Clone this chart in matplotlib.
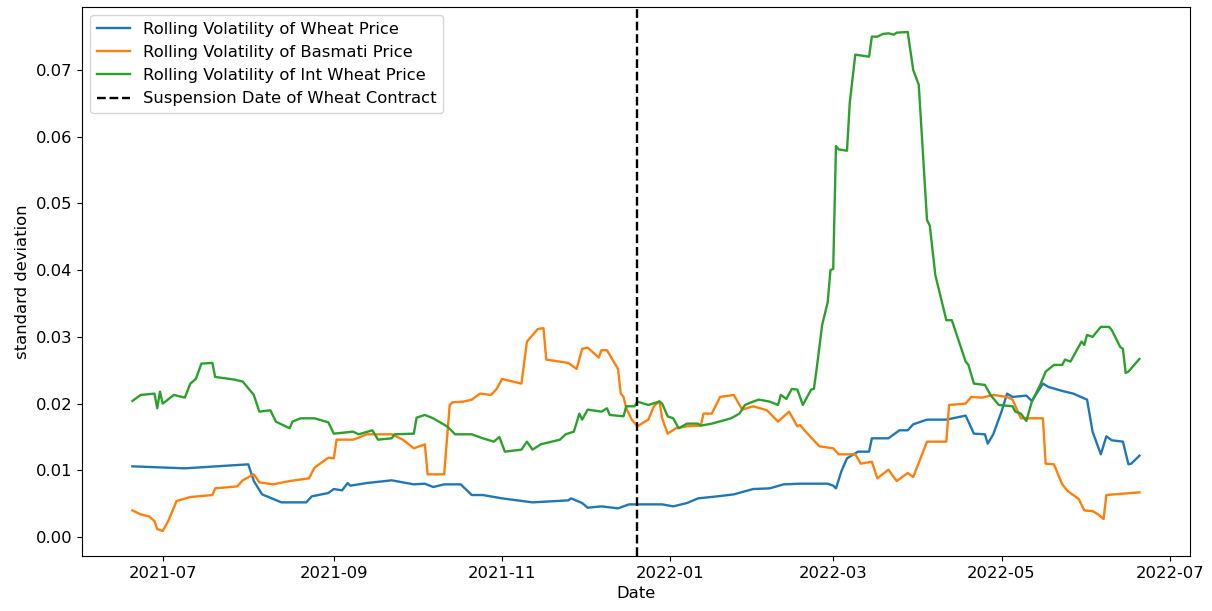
import matplotlib
matplotlib.use("Agg")
import matplotlib.pyplot as plt
import pandas as pd

base_date = pd.Timestamp("2021-07-01")
suspension_date = pd.Timestamp("2021-12-20")

# days since base_date, values
wheat_days = [-11, 8, 31, 33, 36, 43, 52, 54, 60, 62, 65, 67, 68, 74, 83, 91, 95, 98, 102, 108,
              112, 116, 123, 134, 147, 148, 152, 154, 159, 165, 169, 172, 181, 185, 190, 194, 201,
              207, 214, 220, 225, 231, 241, 243, 244, 246, 248, 252, 256, 257, 263, 267, 270, 272,
              277, 284, 291, 294, 298, 299, 301, 304, 306, 308, 313, 315, 319, 321, 326, 330, 335,
              337, 340, 342, 344, 348, 350, 351, 354]
wheat_vol = [0.0106, 0.0103, 0.0109, 0.0084, 0.0064, 0.0052, 0.0052, 0.0061, 0.0066, 0.0072, 0.0070,
             0.0081, 0.0077, 0.0081, 0.0085, 0.0079, 0.0080, 0.0075, 0.0079, 0.0079, 0.0063, 0.0063,
             0.0058, 0.0052, 0.0055, 0.0058, 0.0051, 0.0044, 0.0046, 0.0043, 0.0049, 0.0049, 0.0049,
             0.0046, 0.0051, 0.0058, 0.0061, 0.0064, 0.0072, 0.0073, 0.0079, 0.0080, 0.0080, 0.0077,
             0.0073, 0.0099, 0.0118, 0.0128, 0.0128, 0.0148, 0.0148, 0.0160, 0.0160, 0.0169, 0.0176,
             0.0176, 0.0182, 0.0155, 0.0154, 0.0140, 0.0154, 0.0188, 0.0215, 0.0210, 0.0212, 0.0204,
             0.0230, 0.0225, 0.0219, 0.0215, 0.0206, 0.0158, 0.0124, 0.0151, 0.0145, 0.0143, 0.0109,
             0.0110, 0.0122]

basmati_days = [-11, -8, -5, -3, -2, 0, 2, 5, 10, 18, 19, 27, 29, 33, 35, 40, 46, 53, 55, 60, 62, 63,
                69, 71, 74, 83, 87, 91, 95, 96, 102, 104, 105, 109, 112, 115, 119, 121, 123, 130, 132,
                136, 138, 139, 147, 150, 152, 154, 158, 159, 161, 165, 166, 167, 168, 170, 172, 176,
                178, 180, 181, 183, 186, 190, 195, 196, 199, 202, 207, 210, 214, 219, 223, 227, 230,
                231, 233, 238, 243, 245, 251, 253, 257, 259, 263, 266, 270, 272, 277, 284, 285, 291,
                293, 297, 301, 306, 308, 311, 319, 320, 323, 326, 328, 332, 334, 337, 339, 341, 342, 354]
basmati_vol = [0.0040, 0.0034, 0.0031, 0.0024, 0.0012, 0.0009, 0.0024, 0.0054, 0.0060, 0.0063, 0.0073,
               0.0076, 0.0085, 0.0094, 0.0082, 0.0079, 0.0084, 0.0088, 0.0104, 0.0119, 0.0118, 0.0146,
               0.0146, 0.0149, 0.0154, 0.0154, 0.0146, 0.0133, 0.0139, 0.0094, 0.0094, 0.0198, 0.0202,
               0.0203, 0.0206, 0.0215, 0.0213, 0.0222, 0.0237, 0.0230, 0.0293, 0.0312, 0.0313, 0.0266,
               0.0261, 0.0252, 0.0282, 0.0284, 0.0269, 0.0280, 0.0280, 0.0252, 0.0215, 0.0210, 0.0193,
               0.0176, 0.0166, 0.0176, 0.0196, 0.0204, 0.0178, 0.0155, 0.0163, 0.0166, 0.0167, 0.0185,
               0.0185, 0.0210, 0.0213, 0.0191, 0.0196, 0.0190, 0.0173, 0.0188, 0.0166, 0.0168, 0.0158,
               0.0136, 0.0133, 0.0124, 0.0124, 0.0110, 0.0113, 0.0088, 0.0101, 0.0084, 0.0096, 0.0090,
               0.0143, 0.0143, 0.0198, 0.0200, 0.0210, 0.0209, 0.0213, 0.0210, 0.0206, 0.0178, 0.0178,
               0.0110, 0.0109, 0.0079, 0.0069, 0.0057, 0.0040, 0.0039, 0.0034, 0.0027, 0.0063, 0.0067]

int_wheat_days = [-11, -8, -3, -2, -1, 0, 4, 8, 10, 12, 14, 18, 19, 26, 29, 33, 35, 39, 41, 43, 46, 47,
                  50, 55, 60, 62, 69, 71, 76, 78, 83, 84, 91, 92, 95, 98, 103, 106, 112, 116, 120, 122,
                  124, 130, 132, 134, 137, 141, 144, 146, 149, 151, 152, 154, 159, 161, 162, 167, 168,
                  171, 172, 176, 180, 181, 183, 185, 187, 190, 194, 195, 199, 206, 209, 211, 214, 216,
                  220, 223, 224, 226, 228, 230, 232, 235, 236, 237, 239, 241, 242, 243, 244, 245, 248,
                  249, 251, 256, 257, 259, 261, 263, 265, 266, 270, 272, 274, 277, 278, 280, 284, 286,
                  291, 292, 294, 298, 300, 303, 308, 309, 311, 313, 315, 318, 320, 323, 326, 327, 329,
                  333, 334, 335, 337, 340, 343, 344, 347, 348, 349, 350, 354]
int_wheat_vol = [0.0204, 0.0213, 0.0215, 0.0193, 0.0218, 0.0200, 0.0213, 0.0209, 0.0230, 0.0237, 0.0260,
                 0.0261, 0.0240, 0.0236, 0.0233, 0.0213, 0.0188, 0.0190, 0.0173, 0.0169, 0.0163, 0.0173,
                 0.0178, 0.0178, 0.0172, 0.0155, 0.0158, 0.0154, 0.0160, 0.0146, 0.0148, 0.0154, 0.0155,
                 0.0179, 0.0183, 0.0178, 0.0166, 0.0154, 0.0154, 0.0148, 0.0143, 0.0150, 0.0128, 0.0131,
                 0.0143, 0.0131, 0.0139, 0.0143, 0.0146, 0.0154, 0.0158, 0.0185, 0.0176, 0.0191, 0.0188,
                 0.0193, 0.0183, 0.0181, 0.0196, 0.0196, 0.0203, 0.0198, 0.0203, 0.0200, 0.0181, 0.0178,
                 0.0163, 0.0170, 0.0170, 0.0167, 0.0170, 0.0178, 0.0185, 0.0198, 0.0203, 0.0206, 0.0203,
                 0.0198, 0.0213, 0.0207, 0.0222, 0.0221, 0.0198, 0.0221, 0.0222, 0.0252, 0.0318, 0.0352,
                 0.0400, 0.0402, 0.0586, 0.0581, 0.0579, 0.0651, 0.0723, 0.0720, 0.0750, 0.0750, 0.0754,
                 0.0755, 0.0753, 0.0756, 0.0757, 0.0700, 0.0678, 0.0475, 0.0467, 0.0393, 0.0325, 0.0325,
                 0.0263, 0.0258, 0.0230, 0.0228, 0.0213, 0.0198, 0.0196, 0.0188, 0.0185, 0.0174, 0.0203,
                 0.0228, 0.0248, 0.0258, 0.0258, 0.0266, 0.0263, 0.0293, 0.0288, 0.0303, 0.0300, 0.0315,
                 0.0315, 0.0310, 0.0285, 0.0282, 0.0246, 0.0248, 0.0267]

labels = ["Rolling Volatility of Wheat Price",
          "Rolling Volatility of Basmati Price",
          "Rolling Volatility of Int Wheat Price",
          "Suspension Date of Wheat Contract"]


def to_dates(days):
    return base_date + pd.to_timedelta(days, unit="D")


fs = 11.8
fig = plt.figure(figsize=(12.12, 6.11), dpi=100)
ax = fig.add_axes([0.0677, 0.090, 0.914, 0.8985])

ax.plot(to_dates(wheat_days), wheat_vol, color="tab:blue", lw=1.7, label=labels[0])
ax.plot(to_dates(basmati_days), basmati_vol, color="tab:orange", lw=1.7, label=labels[1])
ax.plot(to_dates(int_wheat_days), int_wheat_vol, color="tab:green", lw=1.7, label=labels[2])
ax.axvline(suspension_date, color="black", linestyle="--", lw=1.7, label=labels[3])

ax.set_xlabel("Date", fontsize=fs)
ax.set_ylabel("standard deviation", fontsize=fs)
ax.tick_params(labelsize=fs)
ax.legend(loc="upper left", fontsize=fs)

fig.savefig("out.png", dpi=100)
